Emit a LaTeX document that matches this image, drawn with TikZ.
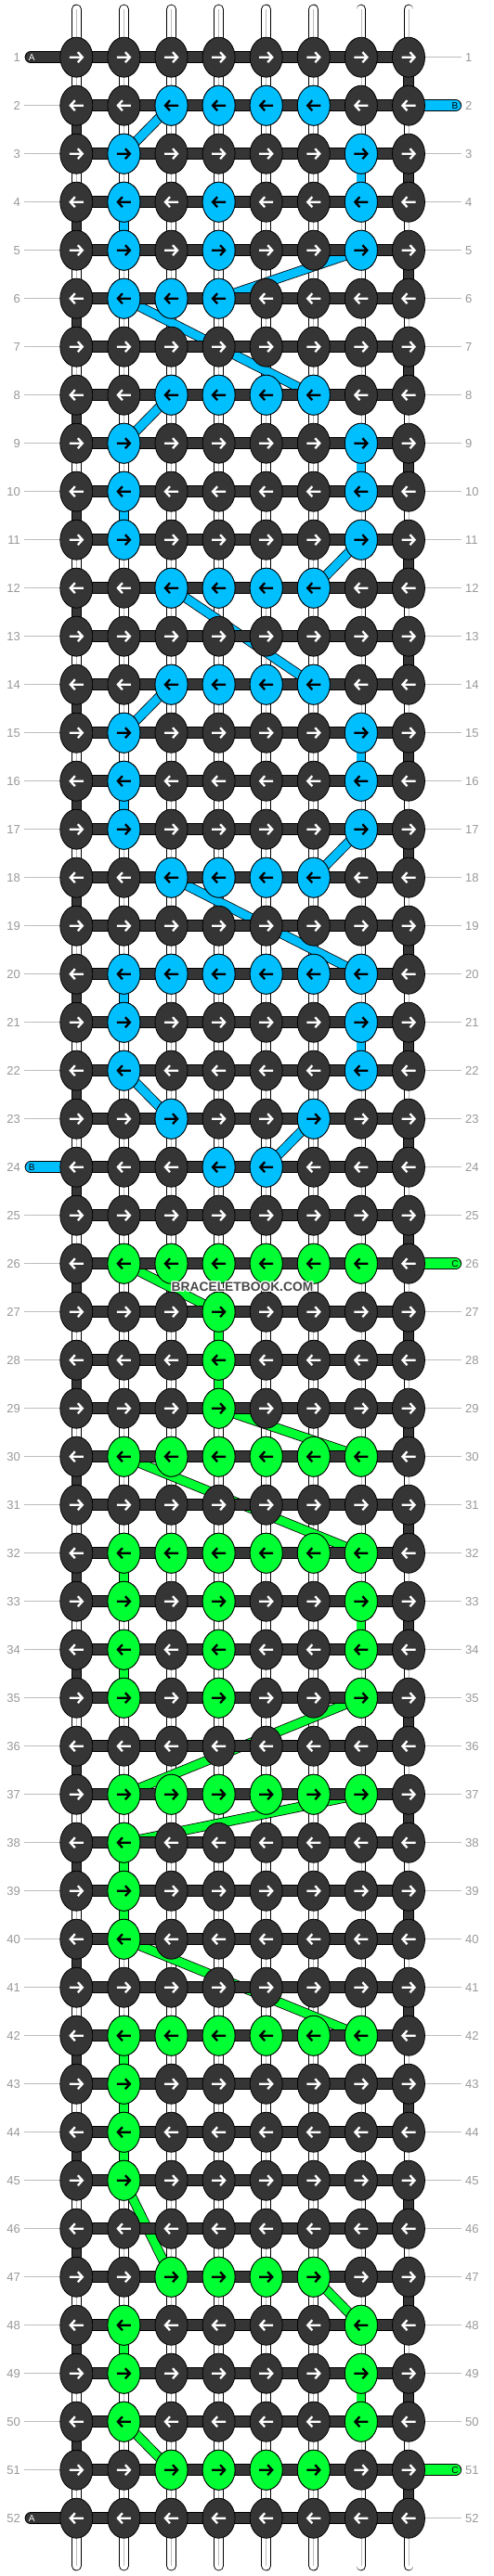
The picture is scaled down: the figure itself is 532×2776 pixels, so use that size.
\documentclass[tikz,border=0pt]{standalone}
\usepackage{fontspec}
\setmainfont{Liberation Sans}
\usetikzlibrary{shapes.geometric}

\definecolor{knotdark}{HTML}{353535}
\definecolor{knotblue}{HTML}{00BFFF}
\definecolor{knotgreen}{HTML}{00FF33}
\definecolor{numgray}{HTML}{999999}
\definecolor{rulegray}{HTML}{BDBDBD}
\definecolor{markgray}{HTML}{474747}

\tikzset{
  knot/.style={ellipse, draw=black, line width=0.8pt, minimum width=35pt, minimum height=43pt, inner sep=0pt},
  basestrand/.style={draw=black, line width=0.9pt, double=white, double distance=9pt, line cap=round},
  aband/.style={draw=black, line width=0.9pt, double=knotdark, double distance=11.4pt},
  edgeband/.style={draw=black, line width=0.9pt, double=knotdark, double distance=9.4pt},
  bband/.style={draw=black, line width=0.8pt, double=knotblue, double distance=9pt},
  cband/.style={draw=black, line width=0.8pt, double=knotgreen, double distance=9pt},
  rowno/.style={text=numgray, font=\fontsize{13pt}{15pt}\selectfont, inner sep=0pt},
  rowrule/.style={rulegray, line width=0.9pt},
  stubtext/.style={font=\fontsize{10pt}{12pt}\selectfont, inner sep=0pt},
  watermark/.style={font=\fontsize{13.8pt}{16pt}\selectfont\bfseries, inner sep=0pt},
  knotarrow/.pic={\draw[line width=2.3pt, line join=miter] (-7.5,0) -- (6.5,0) (1.5,-5.5) -- (6.5,0) -- (1.5,5.5);}
}

\begin{document}
\begin{tikzpicture}[x=1pt, y=-1pt]
  \fill[white] (0,0) rectangle (532,2776);
  \useasboundingbox (0,0) rectangle (532,2776);

  \foreach \r in {1,...,52}
    \foreach \c in {1,...,8}
      \coordinate (k-\r-\c) at ({82.3+51.1*(\c-1)}, {61.7+52*(\r-1)});

  % row numbers
  \foreach \r in {1,...,52}{
    \draw[rowrule] ([xshift=-56pt]k-\r-1) -- (k-\r-1);
    \draw[rowrule] (k-\r-8) -- ([xshift=57pt]k-\r-8);
    \node[rowno, anchor=east] (ln-\r) at ([xshift=-60.3pt]k-\r-1) {\r};
    \node[rowno, anchor=west] (rn-\r) at ([xshift=61pt]k-\r-8) {\r};
  }

  % white base strands
  \foreach \c in {1,...,8}{
    \coordinate (top-\c) at ({82.3+51.1*(\c-1)}, 10);
    \coordinate (bot-\c) at ({82.3+51.1*(\c-1)}, 2765);
    \draw[basestrand] (top-\c) -- (bot-\c);
    \draw[rowrule, line width=0.7pt] (top-\c) -- (bot-\c);
  }

  % colour threads B and C
  \foreach \ra/\ca/\rb/\cb in {2/3/3/2, 3/7/4/7, 4/2/5/2, 5/7/6/4, 6/2/8/6, 8/3/9/2, 9/7/10/7,
      10/2/11/2, 11/7/12/6, 12/3/14/6, 14/3/15/2, 15/7/16/7, 16/2/17/2, 17/7/18/6, 18/3/20/7,
      20/2/21/2, 21/7/22/7, 22/2/23/3, 23/6/24/5}
    \draw[bband] (k-\ra-\ca) -- (k-\rb-\cb);
  \foreach \ra/\ca/\rb/\cb in {26/2/27/4, 27/4/28/4, 28/4/29/4, 29/4/30/7, 30/2/32/7, 32/2/33/2,
      33/7/34/7, 34/2/35/2, 35/7/37/2, 37/7/38/2, 38/2/39/2, 39/2/40/2, 40/2/42/7, 42/2/43/2,
      43/2/44/2, 44/2/45/2, 45/2/47/3, 47/6/48/7, 48/2/49/2, 49/7/50/7, 50/2/51/3}
    \draw[cband] (k-\ra-\ca) -- (k-\rb-\cb);

  % thread A, row by row
  \foreach \r in {1,...,52}
    \draw[aband] (k-\r-1) -- (k-\r-8);
  \foreach \r [evaluate=\r as \rr using int(\r+1)] in {1,3,...,51}
    \draw[edgeband] (k-\r-8) -- (k-\rr-8);
  \foreach \r [evaluate=\r as \rr using int(\r+1)] in {2,4,...,50}
    \draw[edgeband] (k-\r-1) -- (k-\rr-1);

  % loose ends
  \draw[aband, line cap=round] ([xshift=-49pt]k-1-1) -- (k-1-1);
  \draw[aband, line cap=round] ([xshift=-49pt]k-52-1) -- (k-52-1);
  \draw[aband, double=knotblue, line cap=round] (k-2-8) -- ([xshift=50.5pt]k-2-8);
  \draw[aband, double=knotblue, line cap=round] ([xshift=-49pt]k-24-1) -- (k-24-1);
  \draw[aband, double=knotgreen, line cap=round] (k-26-8) -- ([xshift=50.5pt]k-26-8);
  \draw[aband, double=knotgreen, line cap=round] (k-51-8) -- ([xshift=50.5pt]k-51-8);
  \node[stubtext, text=white] (end-a1) at ([xshift=-48pt]k-1-1) {A};
  \node[stubtext, text=white] (end-a2) at ([xshift=-48pt]k-52-1) {A};
  \node[stubtext] (end-b1) at ([xshift=50pt]k-2-8) {B};
  \node[stubtext] (end-b2) at ([xshift=-48pt]k-24-1) {B};
  \node[stubtext] (end-c1) at ([xshift=50pt]k-26-8) {C};
  \node[stubtext] (end-c2) at ([xshift=50pt]k-51-8) {C};

  % knots
  \foreach \r in {1,...,52}{
    \pgfmathsetmacro\ang{ifthenelse(mod(\r,2)==1,0,180)}
    \foreach \c in {1,...,8}{
      \node[knot, fill=knotdark] (n-\r-\c) at (k-\r-\c) {};
      \pic[white, rotate=\ang] at (k-\r-\c) {knotarrow};
    }
  }
  \foreach \r/\cs in {2/{3,4,5,6}, 3/{2,7}, 4/{2,4,7}, 5/{2,4,7}, 6/{2,3,4}, 8/{3,4,5,6},
      9/{2,7}, 10/{2,7}, 11/{2,7}, 12/{3,4,5,6}, 14/{3,4,5,6}, 15/{2,7}, 16/{2,7}, 17/{2,7},
      18/{3,4,5,6}, 20/{2,3,4,5,6,7}, 21/{2,7}, 22/{2,7}, 23/{3,6}, 24/{4,5}}{
    \pgfmathsetmacro\ang{ifthenelse(mod(\r,2)==1,0,180)}
    \foreach \c in \cs {
      \node[knot, fill=knotblue] (b-\r-\c) at (k-\r-\c) {};
      \pic[black, rotate=\ang] at (k-\r-\c) {knotarrow};
    }
  }
  \foreach \r/\cs in {26/{2,3,4,5,6,7}, 27/{4}, 28/{4}, 29/{4}, 30/{2,3,4,5,6,7},
      32/{2,3,4,5,6,7}, 33/{2,4,7}, 34/{2,4,7}, 35/{2,4,7}, 37/{2,3,4,5,6,7}, 38/{2},
      39/{2}, 40/{2}, 42/{2,3,4,5,6,7}, 43/{2}, 44/{2}, 45/{2}, 47/{3,4,5,6}, 48/{2,7},
      49/{2,7}, 50/{2,7}, 51/{3,4,5,6}}{
    \pgfmathsetmacro\ang{ifthenelse(mod(\r,2)==1,0,180)}
    \foreach \c in \cs {
      \node[knot, fill=knotgreen] (g-\r-\c) at (k-\r-\c) {};
      \pic[black, rotate=\ang] at (k-\r-\c) {knotarrow};
    }
  }

  % site mark
  \coordinate (markpos) at (261,1387);
  \foreach \dx/\dy [count=\i] in {-1/0, 1/0, 0/-1, 0/1, -1/-1, 1/1, -1/1, 1/-1}
    \node[watermark, text=white] (halo-\i) at ([shift={(\dx,\dy)}]markpos) {BRACELETBOOK.COM};
  \node[watermark, text=markgray] (mark) at (markpos) {BRACELETBOOK.COM};
\end{tikzpicture}
\end{document}
